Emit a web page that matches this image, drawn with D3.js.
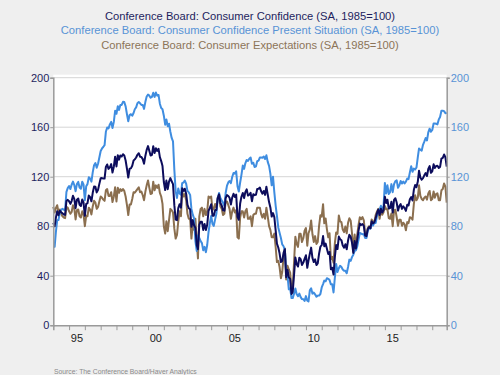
<!DOCTYPE html>
<html>
<head>
<meta charset="utf-8">
<script src="https://cdn.jsdelivr.net/npm/d3@7"></script>
<style>
  body { margin: 0; background: #efefef; }
  svg { display: block; font-family: "Liberation Sans", Arial, sans-serif; }
</style>
</head>
<body>
<div id="viz"></div>
<script>
// monthly values, Jan 1994 - Dec 2018
const confidence = [
  82.6, 79.9, 86.7, 92.1, 88.9, 92.5, 91.3, 90.4, 89.5, 89.1, 100.4, 101.3,
  100.2, 98.0, 100.3, 104.6, 102.0, 94.6, 101.4, 102.4, 97.3, 96.3, 101.6, 99.2,
  88.4, 98.0, 98.4, 104.8, 103.5, 100.1, 107.0, 112.0, 111.8, 107.3, 109.5, 114.2,
  118.7, 118.9, 118.5, 118.5, 127.9, 129.9, 126.3, 127.6, 130.2, 123.4, 128.1, 136.2,
  128.3, 137.4, 133.8, 137.2, 136.3, 138.2, 137.2, 133.1, 126.4, 119.3, 126.4, 126.7,
  128.9, 133.1, 134.0, 135.5, 137.7, 139.0, 136.2, 136.0, 134.2, 130.5, 137.0, 141.7,
  144.7, 140.8, 137.1, 137.7, 144.7, 139.2, 143.0, 140.8, 142.5, 135.8, 132.6, 128.6,
  115.7, 109.2, 116.9, 109.9, 116.1, 118.9, 116.3, 114.0, 97.0, 85.3, 84.9, 94.6,
  97.8, 95.0, 110.7, 108.5, 110.3, 106.3, 97.4, 94.5, 93.7, 79.6, 84.9, 80.7,
  78.8, 64.8, 61.4, 81.0, 83.6, 83.5, 77.0, 81.7, 77.0, 81.1, 92.5, 94.8,
  97.7, 88.5, 88.5, 93.0, 93.1, 102.8, 105.7, 98.7, 96.7, 92.9, 92.6, 102.7,
  105.1, 104.4, 103.0, 97.5, 103.1, 106.2, 103.6, 105.5, 87.5, 85.2, 98.3, 103.8,
  106.8, 102.7, 107.5, 109.8, 104.7, 105.4, 107.0, 100.2, 105.9, 105.1, 105.3, 110.0,
  110.2, 111.2, 108.2, 106.3, 108.5, 105.3, 111.9, 105.6, 99.5, 95.2, 87.8, 90.6,
  87.3, 76.4, 65.9, 62.8, 58.1, 51.0, 51.9, 58.5, 61.4, 38.8, 44.7, 38.6,
  37.4, 25.3, 26.9, 40.8, 54.8, 49.3, 47.4, 54.5, 53.4, 48.7, 50.6, 53.6,
  56.5, 46.4, 52.3, 57.7, 62.7, 54.3, 51.0, 53.2, 48.6, 49.9, 57.8, 63.4,
  64.8, 72.0, 63.8, 66.0, 61.7, 57.6, 59.2, 45.2, 46.4, 40.9, 55.2, 64.8,
  61.5, 71.6, 69.5, 68.7, 64.4, 62.7, 65.4, 61.3, 68.4, 73.1, 71.5, 66.7,
  58.4, 68.0, 61.9, 69.0, 76.2, 82.1, 81.0, 81.8, 80.2, 72.4, 72.0, 77.5,
  79.4, 78.3, 83.9, 82.3, 83.0, 86.4, 90.3, 93.4, 89.0, 94.1, 91.0, 93.1,
  103.8, 98.8, 101.4, 94.3, 94.6, 99.8, 91.0, 101.3, 102.6, 99.1, 92.6, 96.3,
  97.8, 94.0, 96.1, 94.7, 92.4, 97.4, 96.7, 101.8, 103.5, 100.8, 109.4, 113.3,
  111.6, 116.1, 124.9, 119.4, 117.6, 118.9, 121.1, 122.9, 120.6, 126.2, 128.6, 123.1,
  124.3, 130.0, 127.0, 128.7, 128.8, 127.1, 127.9, 134.7, 135.3, 137.9, 135.7, 128.1
];

const presentSituation = [
  63.1, 63.3, 75.0, 84.8, 85.0, 91.0, 93.3, 94.0, 93.3, 93.0, 107.8, 110.8,
  112.5, 110.0, 113.5, 116.0, 113.3, 108.3, 114.0, 115.8, 111.3, 110.3, 116.0, 113.8,
  101.0, 112.3, 114.0, 119.5, 118.5, 116.0, 123.5, 129.3, 131.0, 127.3, 130.5, 135.5,
  140.8, 142.8, 144.0, 145.5, 156.3, 159.8, 159.0, 162.3, 164.3, 159.3, 164.3, 173.3,
  170.8, 177.0, 174.0, 178.0, 178.0, 180.5, 180.3, 176.8, 170.5, 164.8, 169.8, 170.5,
  169.3, 171.5, 174.5, 176.0, 179.3, 180.3, 179.3, 178.0, 178.0, 174.8, 180.5, 184.8,
  186.3, 185.5, 183.8, 184.5, 187.8, 184.5, 188.0, 185.5, 186.0, 179.0, 175.5, 174.5,
  169.3, 162.0, 166.3, 160.8, 162.8, 156.3, 151.3, 148.5, 125.5, 108.3, 102.8, 110.5,
  106.5, 105.5, 114.8, 115.3, 116.8, 114.3, 108.5, 107.3, 105.3, 94.0, 89.3, 86.3,
  68.0, 60.0, 72.5, 70.5, 68.0, 66.3, 60.5, 63.3, 59.0, 64.8, 75.3, 82.5,
  88.3, 81.8, 80.3, 85.5, 90.3, 102.5, 106.8, 102.8, 100.8, 98.8, 96.5, 106.8,
  112.8, 115.5, 116.5, 114.8, 119.8, 123.0, 122.5, 124.3, 112.3, 108.0, 115.3, 121.5,
  129.0, 126.3, 130.8, 133.5, 132.8, 134.5, 135.5, 130.5, 131.3, 127.8, 128.3, 132.5,
  133.0, 135.5, 135.5, 135.3, 136.3, 134.3, 137.3, 132.0, 128.8, 122.5, 113.0, 120.0,
  107.3, 96.5, 88.3, 79.0, 74.8, 70.5, 65.3, 63.8, 60.5, 41.5, 39.8, 29.0,
  29.7, 21.9, 21.9, 25.5, 29.7, 25.0, 23.4, 25.5, 22.7, 21.1, 21.0, 19.6,
  23.5, 19.8, 19.2, 28.2, 29.8, 25.5, 26.4, 24.9, 23.1, 23.9, 24.0, 25.2,
  30.5, 33.2, 36.0, 35.5, 38.0, 37.5, 36.5, 33.0, 33.0, 26.5, 38.5, 49.5,
  43.0, 46.0, 48.0, 47.0, 45.0, 44.0, 44.0, 42.0, 47.0, 53.0, 52.0, 55.0,
  57.0, 60.0, 60.5, 63.5, 69.0, 74.5, 74.0, 73.5, 73.5, 70.5, 70.5, 76.0,
  78.5, 78.0, 81.5, 80.5, 82.5, 82.5, 88.0, 92.5, 93.5, 96.5, 93.5, 96.0,
  115.0, 106.5, 113.0, 106.0, 107.5, 114.0, 107.5, 114.0, 116.5, 117.0, 111.0, 113.0,
  116.5, 114.5, 116.0, 114.5, 116.0, 118.5, 118.0, 123.5, 128.5, 124.0, 126.5, 125.8,
  127.5, 135.8, 142.8, 141.8, 141.0, 145.8, 148.3, 151.3, 149.3, 155.8, 158.8, 156.3,
  157.8, 163.0, 163.0, 162.8, 162.3, 166.3, 168.3, 173.3, 173.3, 173.0, 171.3, 171.6
];

const expectations = [
  95.6, 91.0, 94.5, 97.0, 91.5, 93.5, 90.0, 88.0, 87.0, 86.5, 95.5, 95.0,
  92.0, 90.0, 91.5, 97.0, 94.5, 85.5, 93.0, 93.5, 88.0, 87.0, 92.0, 89.5,
  80.0, 88.5, 88.0, 95.0, 93.5, 89.5, 96.0, 100.5, 99.0, 94.0, 95.5, 100.0,
  104.0, 103.0, 101.5, 100.5, 109.0, 110.0, 104.5, 104.5, 107.5, 99.5, 104.0, 111.5,
  100.0, 111.0, 107.0, 110.0, 108.5, 110.0, 108.5, 104.0, 97.0, 89.0, 97.5, 97.5,
  102.0, 107.5, 107.0, 108.5, 110.0, 111.5, 107.5, 108.0, 105.0, 101.0, 108.0, 113.0,
  117.0, 111.0, 106.0, 106.5, 116.0, 109.0, 113.0, 111.0, 113.5, 107.0, 104.0, 98.0,
  80.0, 74.0, 84.0, 76.0, 85.0, 94.0, 93.0, 91.0, 78.0, 70.0, 73.0, 84.0,
  92.0, 88.0, 108.0, 104.0, 106.0, 101.0, 90.0, 86.0, 86.0, 70.0, 82.0, 77.0,
  86.0, 68.0, 54.0, 88.0, 94.0, 95.0, 88.0, 94.0, 89.0, 92.0, 104.0, 103.0,
  104.0, 93.0, 94.0, 98.0, 95.0, 103.0, 105.0, 96.0, 94.0, 89.0, 90.0, 100.0,
  100.0, 97.0, 94.0, 86.0, 92.0, 95.0, 91.0, 93.0, 71.0, 70.0, 87.0, 92.0,
  92.0, 87.0, 92.0, 94.0, 86.0, 86.0, 88.0, 80.0, 89.0, 90.0, 90.0, 95.0,
  95.0, 95.0, 90.0, 87.0, 90.0, 86.0, 95.0, 88.0, 80.0, 77.0, 71.0, 71.0,
  74.0, 63.0, 51.0, 52.0, 47.0, 38.0, 43.0, 55.0, 62.0, 37.0, 48.0, 45.0,
  42.5, 27.5, 30.2, 51.0, 71.5, 65.5, 63.3, 73.8, 73.8, 67.2, 70.3, 76.3,
  78.5, 64.2, 74.3, 77.3, 84.7, 73.5, 67.3, 72.0, 65.7, 67.2, 80.3, 88.8,
  87.7, 97.8, 82.3, 86.3, 77.5, 71.0, 74.3, 53.3, 55.3, 50.5, 66.3, 75.0,
  73.8, 88.7, 83.8, 83.2, 77.3, 75.2, 79.7, 74.2, 82.7, 86.5, 84.5, 74.5,
  59.3, 73.3, 62.8, 72.7, 81.0, 87.2, 85.7, 87.3, 84.7, 73.7, 73.0, 78.5,
  80.0, 78.5, 85.5, 83.5, 83.3, 89.0, 91.8, 94.0, 86.0, 92.5, 89.3, 91.2,
  96.3, 93.7, 93.7, 86.5, 86.0, 90.3, 80.0, 92.8, 93.3, 87.2, 80.3, 85.2,
  85.3, 80.3, 82.8, 81.5, 76.7, 83.3, 82.5, 87.3, 86.8, 85.3, 98.0, 105.0,
  101.0, 103.0, 113.0, 104.5, 102.0, 101.0, 103.0, 104.0, 101.5, 106.5, 108.5, 101.0,
  102.0, 108.0, 103.0, 106.0, 106.5, 101.0, 101.0, 109.0, 110.0, 114.5, 112.0, 99.1
];

const titles = [
  "Conference Board: Consumer Confidence (SA, 1985=100)",
  "Conference Board: Consumer Confidence Present Situation (SA, 1985=100)",
  "Conference Board: Consumer Expectations (SA, 1985=100)"
];
const yTicks = [0, 40, 80, 120, 160, 200];
const labelYears = [1995, 2000, 2005, 2010, 2015];
const labelText = ["95", "00", "05", "10", "15"];

const width = 500, height = 375;
const margin = {top: 77.7, right: 53.3, bottom: 49.8, left: 53.3};
const colors = {dark: "#0c0c5c", light: "#3f8de0", brown: "#8b6f4f"};

const start = new Date(1994, 0, 1);
const months = confidence.map((d, i) => d3.timeMonth.offset(start, i));

const svg = d3.select("#viz")
    .append("svg")
    .attr("width", width)
    .attr("height", height);

svg.append("rect")
    .attr("width", width)
    .attr("height", height)
    .attr("fill", "#efefef");

const x = d3.scaleTime()
    .domain([start, months[months.length - 1]])
    .range([margin.left, width - margin.right]);

const y = d3.scaleLinear()
    .domain([0, 200])
    .range([height - margin.bottom, margin.top]);

// plot panel
svg.append("rect")
    .attr("x", margin.left)
    .attr("y", margin.top - 3)
    .attr("width", width - margin.left - margin.right)
    .attr("height", height - margin.bottom - margin.top + 3)
    .attr("fill", "#fff");

svg.append("g")
    .selectAll("line")
    .data(yTicks.slice(1))
    .enter().append("line")
    .attr("x1", margin.left)
    .attr("x2", width - margin.right)
    .attr("y1", d => y(d))
    .attr("y2", d => y(d))
    .attr("stroke", "#d6d6d6")
    .attr("stroke-width", 1);

// titles
svg.append("g")
    .selectAll("text")
    .data(titles)
    .enter().append("text")
    .attr("x", width / 2)
    .attr("y", (d, i) => 19.5 + i * 14.8)
    .attr("text-anchor", "middle")
    .attr("font-size", "11.2px")
    .attr("fill", (d, i) => [ "#1e1e5e", "#5893d6", "#8c7458"][i])
    .text(d => d);

// lines
const line = d3.line()
    .x((d, i) => x(months[i]))
    .y(d => y(d));

[[expectations, colors.brown], [presentSituation, colors.light], [confidence, colors.dark]]
    .forEach(([series, c]) => {
        svg.append("path")
            .datum(series)
            .attr("d", line)
            .attr("fill", "none")
            .attr("stroke", c)
            .attr("stroke-width", 2)
            .attr("stroke-linejoin", "round");
    });

// axes
const xAxis = d3.axisBottom(x)
    .tickValues(d3.timeYear.range(new Date(1995, 0, 1), new Date(2019, 0, 1)))
    .tickSize(5)
    .tickFormat("");

const xAxisGroup = svg.append("g")
    .attr("transform", "translate(0," + y(0) + ")")
    .call(xAxis);

const yLeft = svg.append("g")
    .attr("transform", "translate(" + margin.left + ",0)")
    .call(d3.axisLeft(y).tickValues(yTicks).tickSize(3).tickPadding(1));

const yRight = svg.append("g")
    .attr("transform", "translate(" + (width - margin.right) + ",0)")
    .call(d3.axisRight(y).tickValues(yTicks).tickSize(3).tickPadding(1));

[xAxisGroup, yLeft, yRight].forEach(g => {
    g.select(".domain").attr("stroke", "#9a9a9a").attr("stroke-width", 1.5);
    g.selectAll(".tick line").attr("stroke", "#9a9a9a");
});

yLeft.selectAll("text")
    .attr("font-size", "11px")
    .attr("font-family", "Liberation Sans, Arial, sans-serif")
    .attr("fill", "#1e1e5e");

yRight.selectAll("text")
    .attr("font-size", "11px")
    .attr("font-family", "Liberation Sans, Arial, sans-serif")
    .attr("fill", "#5893d6");

svg.append("g")
    .selectAll("text")
    .data(labelYears)
    .enter().append("text")
    .attr("x", d => x(new Date(d, 6, 1)))
    .attr("y", y(0) + 16.5)
    .attr("text-anchor", "middle")
    .attr("font-size", "11px")
    .attr("fill", "#222")
    .text((d, i) => labelText[i]);

svg.append("text")
    .attr("x", 54)
    .attr("y", 373.5)
    .attr("font-size", "6.8px")
    .attr("fill", "#8a8a8a")
    .text("Source:  The Conference Board/Haver Analytics");
</script>
</body>
</html>
